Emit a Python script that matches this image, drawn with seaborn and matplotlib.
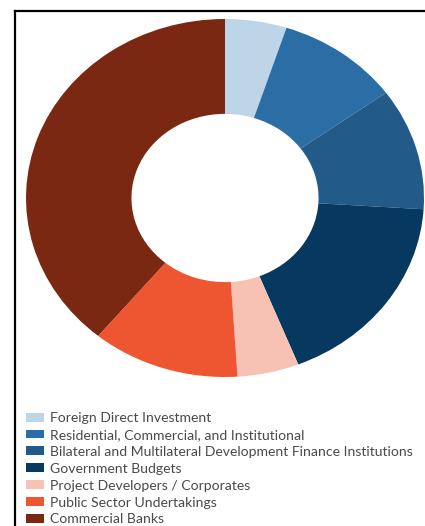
import matplotlib
matplotlib.use("Agg")
import matplotlib.pyplot as plt
from matplotlib.patches import Patch
from matplotlib.lines import Line2D
import seaborn as sns

sources = [
    "Foreign Direct Investment",
    "Residential, Commercial, and Institutional",
    "Bilateral and Multilateral Development Finance Institutions",
    "Government Budgets",
    "Project Developers / Corporates",
    "Public Sector Undertakings",
    "Commercial Banks",
]
shares = [5, 10, 11, 18, 5, 12, 39]
colors = ["#bed5e8", "#2b6ea5", "#225a88", "#063860", "#f7c2b4", "#ee5631", "#7b2812"]

sns.set_theme(style="white")
plt.rcParams["font.family"] = ["Lato", "DejaVu Sans"]
palette = sns.color_palette(colors)

W, H = 425, 526
fig = plt.figure(figsize=(W / 100, H / 100), dpi=100)
fig.patch.set_facecolor("white")

# donut, stretched into an ellipse
cx, cy, rx, ry = 225, 198, 199, 179
ax = fig.add_axes([(cx - rx) / W, (H - cy - ry) / H, 2 * rx / W, 2 * ry / H])
ax.pie(shares, colors=palette, startangle=90, counterclock=False,
       wedgeprops=dict(width=0.53, edgecolor="none"))
ax.set_aspect("auto")
ax.set_xlim(-1, 1)
ax.set_ylim(-1, 1)
ax.axis("off")

# frame lines (top and left)
fig.add_artist(Line2D([15 / W, 15 / W], [1 - 11 / H, 0], transform=fig.transFigure,
                      color="black", lw=1.6, solid_capstyle="projecting"))
fig.add_artist(Line2D([15 / W, 1], [1 - 11 / H, 1 - 11 / H], transform=fig.transFigure,
                      color="black", lw=1.6, solid_capstyle="projecting"))

handles = [Patch(facecolor=c, edgecolor="none") for c in palette]
leg = fig.legend(handles, sources, loc="upper left",
                 bbox_to_anchor=(26 / W, 1 - 412 / H), frameon=False,
                 fontsize=10.1, handlelength=1.29, handleheight=0.6,
                 handletextpad=0.43, labelspacing=0.35, borderpad=0, borderaxespad=0)
for t in leg.get_texts():
    t.set_color("#4a4a4a")

fig.savefig("out.png", dpi=100)
